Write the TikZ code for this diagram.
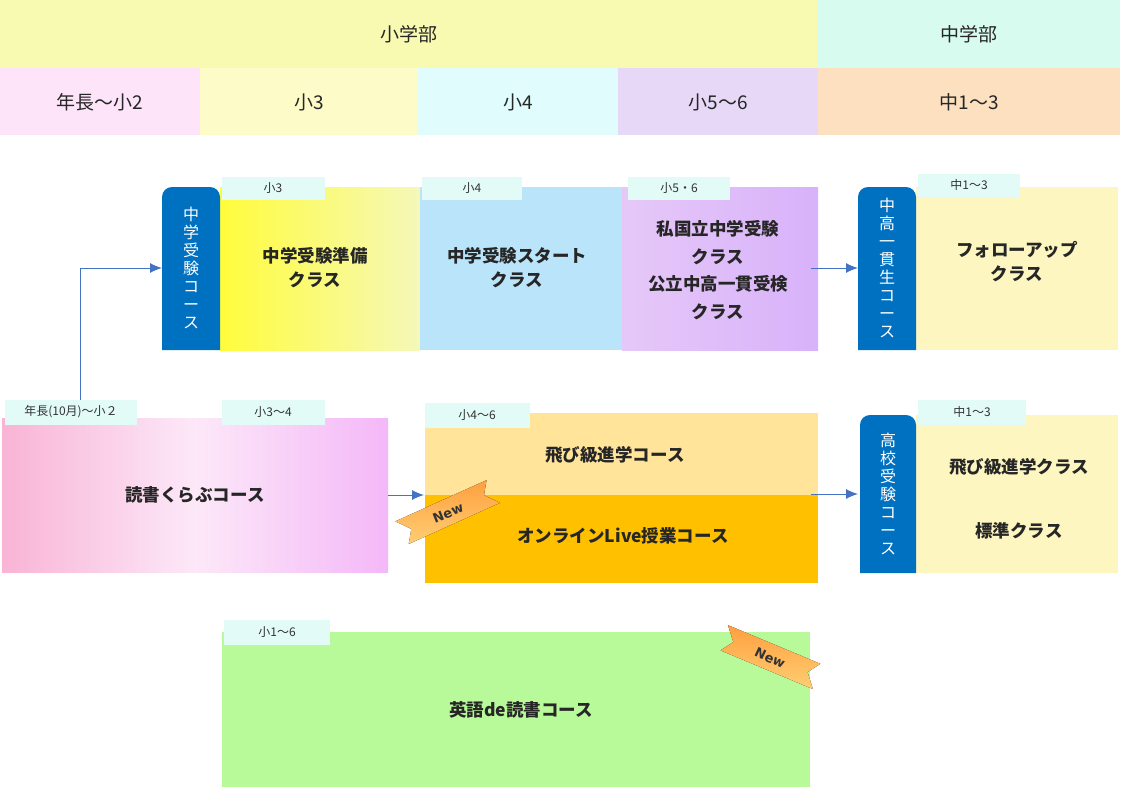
\documentclass[tikz,border=0pt]{standalone}
\usepackage{fontspec}
\setmainfont{Noto Sans CJK JP}
\newfontfamily\newf{DejaVu Sans}
\usetikzlibrary{arrows.meta}
\begin{document}
\begin{tikzpicture}[x=1pt,y=-1pt,
  hd/.style={font=\fontsize{19}{19}\selectfont, inner sep=0, text=black!85},
  lbl/.style={font=\fontsize{17.5}{24}\selectfont\bfseries, align=center, text=black!85},
  tabx/.style={fill=tabc, font=\fontsize{12}{12}\selectfont, text=black!80},
  blue/.style={fill=blu, text=white, font=\fontsize{16}{18}\selectfont, align=center},
  arr/.style={-{Latex[length=12pt,width=10pt]}, draw=arrc, line width=1pt},
  ribbon/.style={top color=orange!75, bottom color=yellow!30!orange!55, draw=none},
  newt/.style={text=black!80, font=\newf\bfseries\fontsize{13}{13}\selectfont, inner sep=0}]
\definecolor{blu}{HTML}{0070C0}
\definecolor{tabc}{HTML}{E2FBF6}
\definecolor{arrc}{HTML}{4472C4}
\useasboundingbox (0,0) rectangle (1124,800);
% header
\fill[fill={rgb,255:red,248;green,250;blue,178}] (0,0) rectangle (818,68);
\fill[fill={rgb,255:red,216;green,251;blue,240}] (818,0) rectangle (1120,68);
\node[hd] (h1) at (409,34) {小学部};
\node[hd] (h2) at (969,34) {中学部};
\fill[fill={rgb,255:red,253;green,228;blue,248}] (0,68) rectangle (200,135);
\fill[fill={rgb,255:red,253;green,251;blue,200}] (200,68) rectangle (418,135);
\fill[fill={rgb,255:red,224;green,252;blue,252}] (418,68) rectangle (618,135);
\fill[fill={rgb,255:red,232;green,216;blue,248}] (618,68) rectangle (818,135);
\fill[fill={rgb,255:red,253;green,224;blue,192}] (818,68) rectangle (1120,135);
\node[hd] (g1) at (100,102) {年長～小2};
\node[hd] (g2) at (309,102) {小3};
\node[hd] (g3) at (518,102) {小4};
\node[hd] (g4) at (718,102) {小5～6};
\node[hd] (g5) at (969,102) {中1～3};
% row A
\fill[left color={rgb,255:red,255;green,252;blue,60}, right color={rgb,255:red,245;green,248;blue,185}] (220,187) rectangle (420,350);
\fill[fill={rgb,255:red,186;green,228;blue,250}] (420,187) rectangle (622,350);
\fill[left color={rgb,255:red,230;green,200;blue,248}, right color={rgb,255:red,216;green,178;blue,250}] (622,187) rectangle (818,350);
\fill[blu, rounded corners=10pt] (162,350) -- (162,187) -- (220,187) [sharp corners] -- (220,350) -- cycle;
\node[blue] (jA) at (191,268) {中\\学\\受\\験\\コ\\ー\\ス};
\node[tabx, minimum width=103pt, minimum height=23pt] (tA1) at (273,188) {小3};
\node[tabx, minimum width=100pt, minimum height=23pt] (tA2) at (472,188) {小4};
\node[tabx, minimum width=102pt, minimum height=23pt] (tA3) at (679,188) {小5・6};
\node[lbl] (cA1) at (315,268) {中学受験準備\\クラス};
\node[lbl] (cA2) at (517,268) {中学受験スタート\\クラス};
\node[lbl, font=\fontsize{17.5}{27.5}\selectfont\bfseries] (cA3) at (718,270) {私国立中学受験\\クラス\\公立中高一貫受検\\クラス};
\fill[fill={rgb,255:red,253;green,246;blue,192}] (916,187) rectangle (1118,350);
\fill[blu, rounded corners=10pt] (858,350) -- (858,187) -- (916,187) [sharp corners] -- (916,350) -- cycle;
\node[blue] (jB) at (887,268) {中\\高\\一\\貫\\生\\コ\\ー\\ス};
\node[tabx, minimum width=102pt, minimum height=23pt] (tA4) at (969,185) {中1～3};
\node[lbl] (cA4) at (1017,262) {フォローアップ\\クラス};
\coordinate (e1) at (811,268);
\draw[arr] (e1) -- (858,268);
% left arrow
\coordinate (s0) at (80,400);
\draw[arr] (s0) |- (162,268);
% row B
\fill[left color={rgb,255:red,249;green,180;blue,214}, right color={rgb,255:red,252;green,232;blue,248}] (2,418) rectangle (195,572);
\fill[left color={rgb,255:red,252;green,232;blue,248}, right color={rgb,255:red,244;green,184;blue,248}] (195,418) rectangle (388,572);
\node[tabx, minimum width=132pt, minimum height=25pt] (tB1) at (71,412) {年長(10月)～小２};
\node[tabx, minimum width=103pt, minimum height=25pt] (tB2) at (273,412) {小3～4};
\node[lbl] (cB1) at (195,495) {読書くらぶコース};
\fill[fill={rgb,255:red,255;green,228;blue,154}] (425,413) rectangle (818,495);
\fill[fill={rgb,255:red,255;green,192;blue,0}] (425,495) rectangle (818,583);
\node[tabx, minimum width=105pt, minimum height=25pt] (tB3) at (477,415) {小4～6};
\node[lbl] (cB2) at (615,455) {飛び級進学コース};
\node[lbl] (cB3) at (623,536) {オンラインLive授業コース};
\coordinate (e2) at (811,494);
\draw[arr] (e2) -- (858,494);
\fill[fill={rgb,255:red,253;green,246;blue,192}] (916,415) rectangle (1118,573);
\fill[blu, rounded corners=10pt] (860,573) -- (860,415) -- (916,415) [sharp corners] -- (916,573) -- cycle;
\node[blue] (kB) at (888,494) {高\\校\\受\\験\\コ\\ー\\ス};
\node[tabx, minimum width=108pt, minimum height=25pt] (tB4) at (972,412) {中1～3};
\node[lbl] (cB4) at (1019,467) {飛び級進学クラス};
\node[lbl] (cB5) at (1019,531) {標準クラス};
% row C
\fill[fill={rgb,255:red,184;green,250;blue,154}] (222,632) rectangle (810,787);
\node[tabx, minimum width=106pt, minimum height=25pt] (tC) at (277,632) {小1～6};
\node[lbl] (cC) at (521,710) {英語de読書コース};
% New ribbons
\begin{scope}[shift={(448,513)}, rotate=22]
\fill[ribbon] (-52,-12) -- (48,-16) -- (40,-3) -- (52,10) -- (-48,14) -- (-40,1) -- cycle;
\end{scope}
\node[newt, rotate=22] (n1) at (448,513) {New};
\draw[arr] (388,495) -- (424,495);
\begin{scope}[shift={(770,658)}, rotate=-25]
\fill[ribbon] (-52,-12) -- (48,-16) -- (40,-3) -- (52,10) -- (-48,14) -- (-40,1) -- cycle;
\end{scope}
\node[newt, rotate=-25] (n2) at (770,658) {New};
\end{tikzpicture}
\end{document}
